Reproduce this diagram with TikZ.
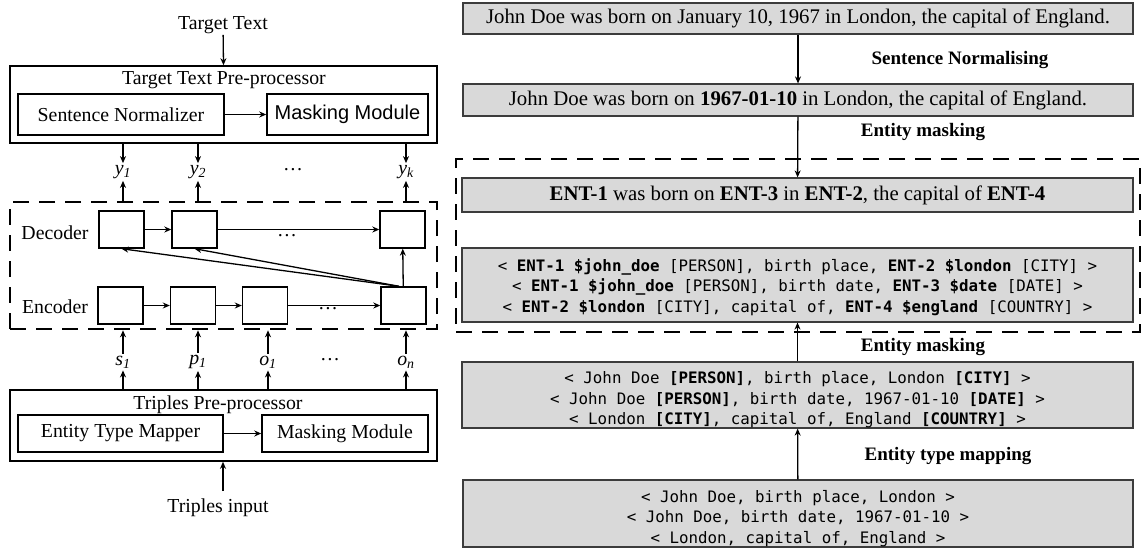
\documentclass[tikz,border=0pt]{standalone}
\usepackage{fontspec}
\setmainfont{Liberation Serif}
\newfontfamily\codefont{DejaVu Sans Mono}
\newfontfamily\plainsans{Liberation Sans}
\usetikzlibrary{arrows.meta}

\definecolor{boxgray}{HTML}{D9D9D9}
\definecolor{edgegray}{HTML}{3C3C3C}

\tikzset{
  arr/.style={-{Stealth[length=7pt,width=6pt]}, line width=1.3pt},
  lefttext/.style={font=\fontsize{19.8}{22}\selectfont, inner sep=1pt},
  outerbox/.style={draw, line width=1.6pt, inner sep=0pt},
  modbox/.style={draw, line width=1.5pt, inner sep=0pt, font=\fontsize{19.8}{22}\selectfont},
  cellbox/.style={draw, line width=1.4pt, inner sep=0pt, minimum width=45pt, minimum height=37pt},
  groupbox/.style={draw, line width=2.6pt, dash pattern=on 16pt off 10pt, inner sep=0pt},
  graybox/.style={draw=edgegray, fill=boxgray, line width=1.2pt, inner sep=0pt, align=center},
  sentence/.style={graybox, font=\fontsize{20.8}{23}\selectfont},
  tuples/.style={inner sep=0pt, align=center, font=\codefont\fontsize{15.8}{20.5}\selectfont},
  steplabel/.style={font=\bfseries\fontsize{19}{21}\selectfont, inner sep=0pt},
  tok/.style={lefttext, inner sep=2pt},
}

\begin{document}
\begin{tikzpicture}[x=1pt, y=-1pt]
\useasboundingbox (0,0) rectangle (1143,550);

% ---------------- left: model overview ----------------
\node[lefttext] (target) at (223,25) {Target Text};
\node[outerbox, minimum width=427pt, minimum height=77pt] (ttp) at (223.5,104.5) {};
\node[lefttext] (ttptitle) at (224,80) {Target Text Pre-processor};
\node[modbox, minimum width=206pt, minimum height=41pt] (norm) at (121,114.5) {Sentence Normalizer};
\node[modbox, minimum width=161pt, minimum height=41pt, font=\plainsans\fontsize{20}{22}\selectfont] (tmask) at (347.5,114.5) {Masking Module};
\draw[arr] (target) -- (ttp.north);
\draw[arr] (norm) -- (tmask);

% output tokens
\node[tok] (y1) at (123,172) {\textit{y\textsubscript{1}}};
\node[tok] (y2) at (198,172) {\textit{y\textsubscript{2}}};
\node[tok] (ydots) at (293,170) {\dots};
\node[tok] (yk) at (406,172) {\textit{y\textsubscript{k}}};

% encoder-decoder group
\node[groupbox, minimum width=427pt, minimum height=127pt] (seq) at (223.5,265.5) {};
\node[lefttext] (declab) at (55,233) {Decoder};
\node[lefttext] (enclab) at (55,307) {Encoder};
\node[cellbox] (d1) at (121.5,229.5) {};
\node[cellbox] (d2) at (194.5,229.5) {};
\node[cellbox] (d3) at (402.5,229.5) {};
\node[cellbox] (e1) at (120.5,305.5) {};
\node[cellbox] (e2) at (193,305.5) {};
\node[cellbox] (e3) at (265,305.5) {};
\node[cellbox] (e4) at (403.5,305.5) {};
\node[tok] (ddots) at (287,236) {\dots};
\node[tok] (edots) at (328,309) {\dots};

\draw[arr] (d1) -- (d2);
\draw[arr] (d2) -- (d3);
\draw[arr] (e1) -- (e2);
\draw[arr] (e2) -- (e3);
\draw[arr] (e3) -- (e4);
\draw[arr] (e4) -- (d3);
\draw[arr] (e4.103) -- (d1.south);
\draw[arr] (e4.103) -- (d2.south);

\foreach \t in {y1,y2,yk} {
  \draw[arr] (\t |- ttp.south) -- (\t.north);
  \draw[arr] (\t |- seq.north) -- (\t.south);
}

% input tokens
\node[tok] (s1) at (123,362) {\textit{s\textsubscript{1}}};
\node[tok] (p1) at (198,362) {\textit{p\textsubscript{1}}};
\node[tok] (o1) at (268,362) {\textit{o\textsubscript{1}}};
\node[tok] (idots) at (330,360) {\dots};
\node[tok] (on) at (406,362) {\textit{o\textsubscript{n}}};

\node[outerbox, minimum width=427pt, minimum height=71pt] (tpp) at (223.5,425.5) {};
\node[lefttext] (tpptitle) at (218,405) {Triples Pre-processor};
\node[modbox, minimum width=205pt, minimum height=37pt] (etm) at (120.5,433.5) {Entity Type Mapper};
\node[modbox, minimum width=166pt, minimum height=37pt] (smask) at (345,433.5) {Masking Module};
\draw[arr] (etm) -- (smask);

\foreach \t in {s1,p1,o1,on} {
  \draw[arr] (\t |- tpp.north) -- (\t.south);
  \draw[arr] (\t.north) -- (\t |- seq.south);
}

\node[lefttext] (tin) at (218,508) {Triples input};
\coordinate (tinfoot) at (223,491);
\draw[arr] (tinfoot) -- (tinfoot |- tpp.south);

% ---------------- right: worked example ----------------
\node[groupbox, minimum width=684pt, minimum height=173pt] (masked) at (798,245.5) {};

\node[sentence, minimum width=670pt, minimum height=31pt] (raw) at (798,18.5)
  {John Doe was born on January 10, 1967 in London, the capital of England.};
\node[sentence, minimum width=670pt, minimum height=32pt] (norm2) at (798,100)
  {John Doe was born on \textbf{1967-01-10} in London, the capital of England.};
\node[sentence, minimum width=671pt, minimum height=34pt] (masksent) at (797.5,195)
  {\textbf{ENT-1} was born on \textbf{ENT-3} in \textbf{ENT-2}, the capital of \textbf{ENT-4}};

% triple lists: frame first, then the lines inside it
\node[graybox, minimum width=671pt, minimum height=74pt] (masktrip) at (797.5,285) {};
\node[tuples] (masktriptext) at (797.5,287)
  {< \textbf{ENT-1 \$john\_doe} [PERSON], birth place, \textbf{ENT-2 \$london} [CITY] >\\
   < \textbf{ENT-1 \$john\_doe} [PERSON], birth date, \textbf{ENT-3 \$date} [DATE] >\\
   < \textbf{ENT-2 \$london} [CITY], capital of, \textbf{ENT-4 \$england} [COUNTRY] >};
\node[graybox, minimum width=671pt, minimum height=66pt] (typed) at (797.5,395) {};
\node[tuples] (typedtext) at (797.5,400)
  {< John Doe \textbf{[PERSON]}, birth place, London \textbf{[CITY]} >\\
   < John Doe \textbf{[PERSON]}, birth date, 1967-01-10 \textbf{[DATE]} >\\
   < London \textbf{[CITY]}, capital of, England \textbf{[COUNTRY]} >};
\node[graybox, minimum width=670pt, minimum height=67pt] (triples) at (798,513.5) {};
\node[tuples] (triplestext) at (798,518.5)
  {< John Doe, birth place, London >\\
   < John Doe, birth date, 1967-01-10 >\\
   < London, capital of, England >};

\draw[arr] (raw) -- (norm2);
\draw[arr] (norm2) -- (masksent);
\draw[arr] (typed) -- (masktrip);
\draw[arr] (triples) -- (typed);

\node[steplabel] (l1) at (960,60) {Sentence Normalising};
\node[steplabel] (l2) at (923,132) {Entity masking};
\node[steplabel] (l3) at (923,347) {Entity masking};
\node[steplabel] (l4) at (948,456) {Entity type mapping};
\end{tikzpicture}
\end{document}
